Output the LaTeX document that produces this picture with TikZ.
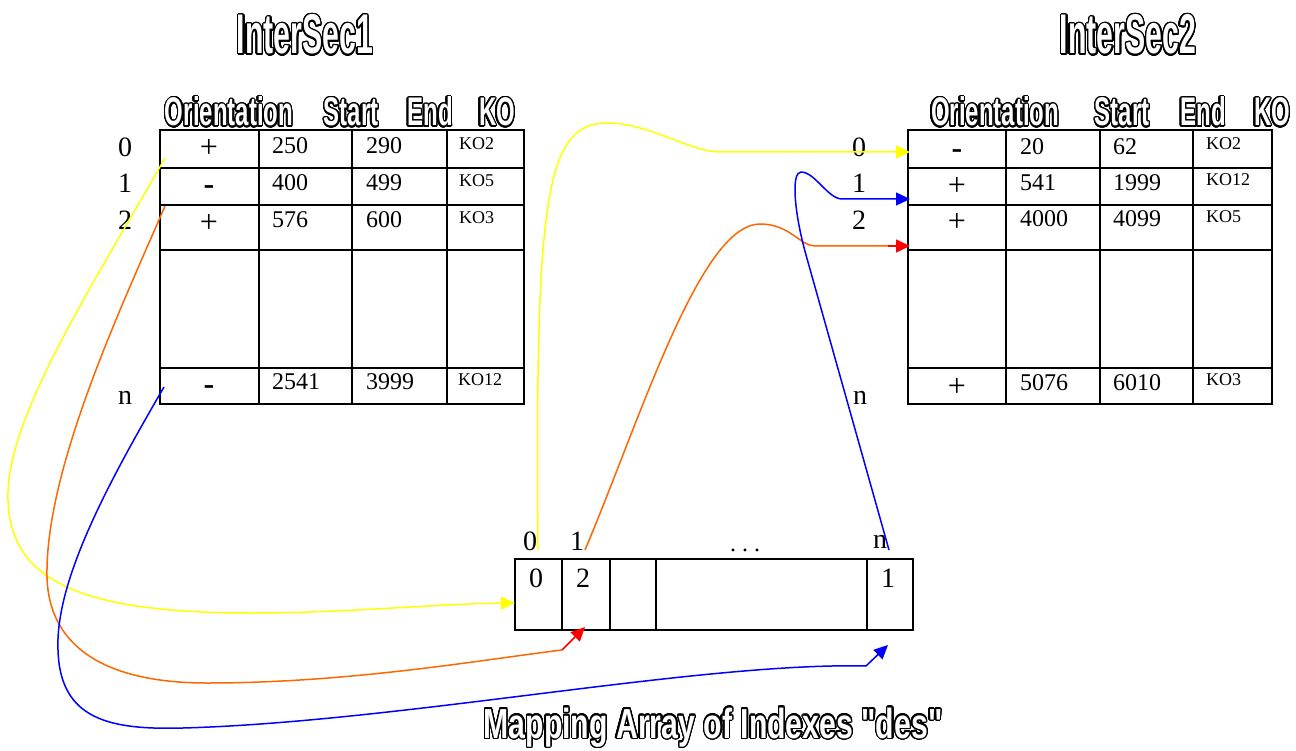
\documentclass[tikz,border=0pt]{standalone}
\usepackage{fontspec}
\setmainfont{Liberation Serif}
\newfontfamily\outA{Liberation Sans}[FakeStretch=0.54]
\newfontfamily\outB{Liberation Sans}[FakeStretch=0.6]
\newfontfamily\outC{Liberation Sans}[FakeStretch=0.72]
\usepackage{contour}
\contourlength{1.4pt}
\contournumber{32}
\usetikzlibrary{arrows.meta}
\definecolor{cyel}{RGB}{255,255,0}
\definecolor{cora}{RGB}{255,102,0}
\definecolor{cblu}{RGB}{0,0,255}
\definecolor{cred}{RGB}{255,0,0}
% white letters with a black outline
\newcommand{\outl}[1]{\textcolor{white}{\contour{black}{#1}}}
\tikzset{
  grid/.style={line width=1.8pt, line cap=rect},
  title/.style={anchor=base, inner sep=0pt, font=\outA\bfseries\fontsize{56}{56}\selectfont},
  bigtitle/.style={anchor=base, inner sep=0pt, font=\outC\bfseries\fontsize{42}{42}\selectfont},
  head/.style={anchor=base, inner sep=0pt, font=\outB\bfseries\fontsize{40}{40}\selectfont},
  num/.style={anchor=west, inner sep=0pt, font=\fontsize{24}{24}\selectfont},
  ko/.style={anchor=west, inner sep=0pt, font=\fontsize{18}{18}\selectfont},
  plus/.style={anchor=center, inner sep=0pt, font=\fontsize{32}{32}\selectfont},
  minus/.style={anchor=base, inner sep=0pt, font=\bfseries\fontsize{32}{32}\selectfont},
  idx/.style={anchor=center, inner sep=0pt, font=\fontsize{28}{28}\selectfont},
  wire/.style={line width=1.5pt},
  tip/.style={-{Triangle[length=14pt,width=13pt]}},
}
\begin{document}
\begin{tikzpicture}[x=1pt,y=-1pt]
\useasboundingbox (0,0) rectangle (1296,751);

% ---------- titles ----------
\node[title] (t1) at (305,54) {\outl{InterSec1}};
\node[title] (t2) at (1128,54) {\outl{InterSec2}};
\node[bigtitle] (t3) at (713,738) {\outl{Mapping Array of Indexes "des"}};

% ---------- headers ----------
\node[head] (h1o) at (229,126) {\outl{Orientation}};
\node[head] (h1s) at (351,126) {\outl{Start}};
\node[head] (h1e) at (430,126) {\outl{End}};
\node[head] (h1k) at (497,126) {\outl{KO}};
\node[head] (h2o) at (995,126) {\outl{Orientation}};
\node[head] (h2s) at (1122,126) {\outl{Start}};
\node[head] (h2e) at (1203,126) {\outl{End}};
\node[head] (h2k) at (1272,126) {\outl{KO}};

% ---------- table 1 ----------
\draw[grid] (160,130) rectangle (524,404);
\foreach \yy in {168,205,250,368} \draw[grid] (160,\yy) -- (524,\yy);
\foreach \xx in {259,352,447} \draw[grid] (\xx,130) -- (\xx,404);

\node[idx] (r10) at (125,147) {0};
\node[idx] (r11) at (125,183) {1};
\node[idx] (r12) at (125,220) {2};
\node[idx] (r1n) at (125,398) {n};

\node[plus]  (a0o) at (209,148) {+};
\node[num]   (a0s) at (272,146) {250};
\node[num]   (a0e) at (366,146) {290};
\node[ko]    (a0k) at (459,144) {KO2};
\node[minus] (a1o) at (209,195) {-};
\node[num]   (a1s) at (272,183) {400};
\node[num]   (a1e) at (366,183) {499};
\node[ko]    (a1k) at (459,181) {KO5};
\node[plus]  (a2o) at (209,223) {+};
\node[num]   (a2s) at (272,220) {576};
\node[num]   (a2e) at (366,220) {600};
\node[ko]    (a2k) at (459,218) {KO3};
\node[minus] (ano) at (209,394) {-};
\node[num]   (ans) at (272,382) {2541};
\node[num]   (ane) at (366,382) {3999};
\node[ko]    (ank) at (458,380) {KO12};

% ---------- table 2 ----------
\draw[grid] (908,130) rectangle (1272,404);
\foreach \yy in {168,205,250,368} \draw[grid] (908,\yy) -- (1272,\yy);
\foreach \xx in {1006,1100,1193} \draw[grid] (\xx,130) -- (\xx,404);

\node[idx] (r20) at (859,147) {0};
\node[idx] (r21) at (859,183) {1};
\node[idx] (r22) at (859,220) {2};
\node[idx] (r2n) at (860,398) {n};

\node[minus] (b0o) at (957,159) {-};
\node[num]   (b0s) at (1020,147) {20};
\node[num]   (b0e) at (1113,147) {62};
\node[ko]    (b0k) at (1206,144) {KO2};
\node[plus]  (b1o) at (957,186) {+};
\node[num]   (b1s) at (1020,183) {541};
\node[num]   (b1e) at (1113,183) {1999};
\node[ko]    (b1k) at (1206,180) {KO12};
\node[plus]  (b2o) at (957,222) {+};
\node[num]   (b2s) at (1020,219) {4000};
\node[num]   (b2e) at (1113,219) {4099};
\node[ko]    (b2k) at (1206,217) {KO5};
\node[plus]  (bno) at (957,387) {+};
\node[num]   (bns) at (1020,383) {5076};
\node[num]   (bne) at (1113,383) {6010};
\node[ko]    (bnk) at (1206,380) {KO3};

% ---------- mapping array ----------
\draw[grid] (515,559) rectangle (913,630);
\foreach \xx in {562,610,656,867} \draw[grid] (\xx,559) -- (\xx,630);
\node[idx] (m0) at (530,541) {0};
\node[idx] (m1) at (577,541) {1};
\node[anchor=base, inner sep=0pt, font=\fontsize{24}{24}\selectfont] (md) at (745,551) {.\hspace{6pt}.\hspace{6pt}.};
\node[idx] (mn) at (880,542) {n};
\node[idx] (v0) at (536,578) {0};
\node[idx] (v1) at (583,578) {2};
\node[idx] (vn) at (888,578) {1};

% ---------- connector end points ----------
\coordinate (y1s) at (165,158);
\coordinate (y1e) at (515,603);
\coordinate (o1s) at (165,206);
\coordinate (o1m) at (562,650);
\coordinate (o1e) at (585,627);
\coordinate (b1s) at (164,387);
\coordinate (b1m) at (866,666);
\coordinate (b1e) at (888,645);
\coordinate (y2s) at (538,550);
\coordinate (y2e) at (910,152);
\coordinate (o2s) at (585,550);
\coordinate (o2m) at (888,246);
\coordinate (o2e) at (910,246);
\coordinate (b2s) at (889,550);
\coordinate (b2e) at (910,199);

% ---------- connectors ----------
\draw[wire,cyel,tip] (y1s) .. controls (90,290) and (5,420) .. (8,500)
   .. controls (10,580) and (80,613) .. (250,613)
   .. controls (350,613) and (430,604) .. (y1e);
\draw[wire,cora] (o1s) .. controls (120,310) and (45,470) .. (47,577)
   .. controls (49,650) and (110,683) .. (207,683)
   .. controls (350,683) and (480,660) .. (o1m);
\draw[wire,cred,tip] (o1m) -- (o1e);
\draw[wire,cblu] (b1s) .. controls (110,480) and (55,580) .. (58,650)
   .. controls (60,720) and (110,730) .. (183,728)
   .. controls (400,722) and (700,662) .. (b1m);
\draw[wire,cblu,tip] (b1m) -- (b1e);

\draw[wire,cyel,tip] (y2s) .. controls (535,200) and (545,123) .. (607,123)
   .. controls (650,123) and (690,152) .. (720,152) -- (y2e);
\draw[wire,cora] (o2s) .. controls (640,420) and (700,224) .. (760,224)
   .. controls (790,224) and (800,246) .. (815,246) -- (o2m);
\draw[wire,cred,tip] (o2m) -- (o2e);
\draw[wire,cblu,tip] (b2s) -- (806,255) .. controls (794,212) and (791,172) .. (801,172)
   .. controls (815,172) and (828,199) .. (842,199) -- (b2e);
\end{tikzpicture}
\end{document}
